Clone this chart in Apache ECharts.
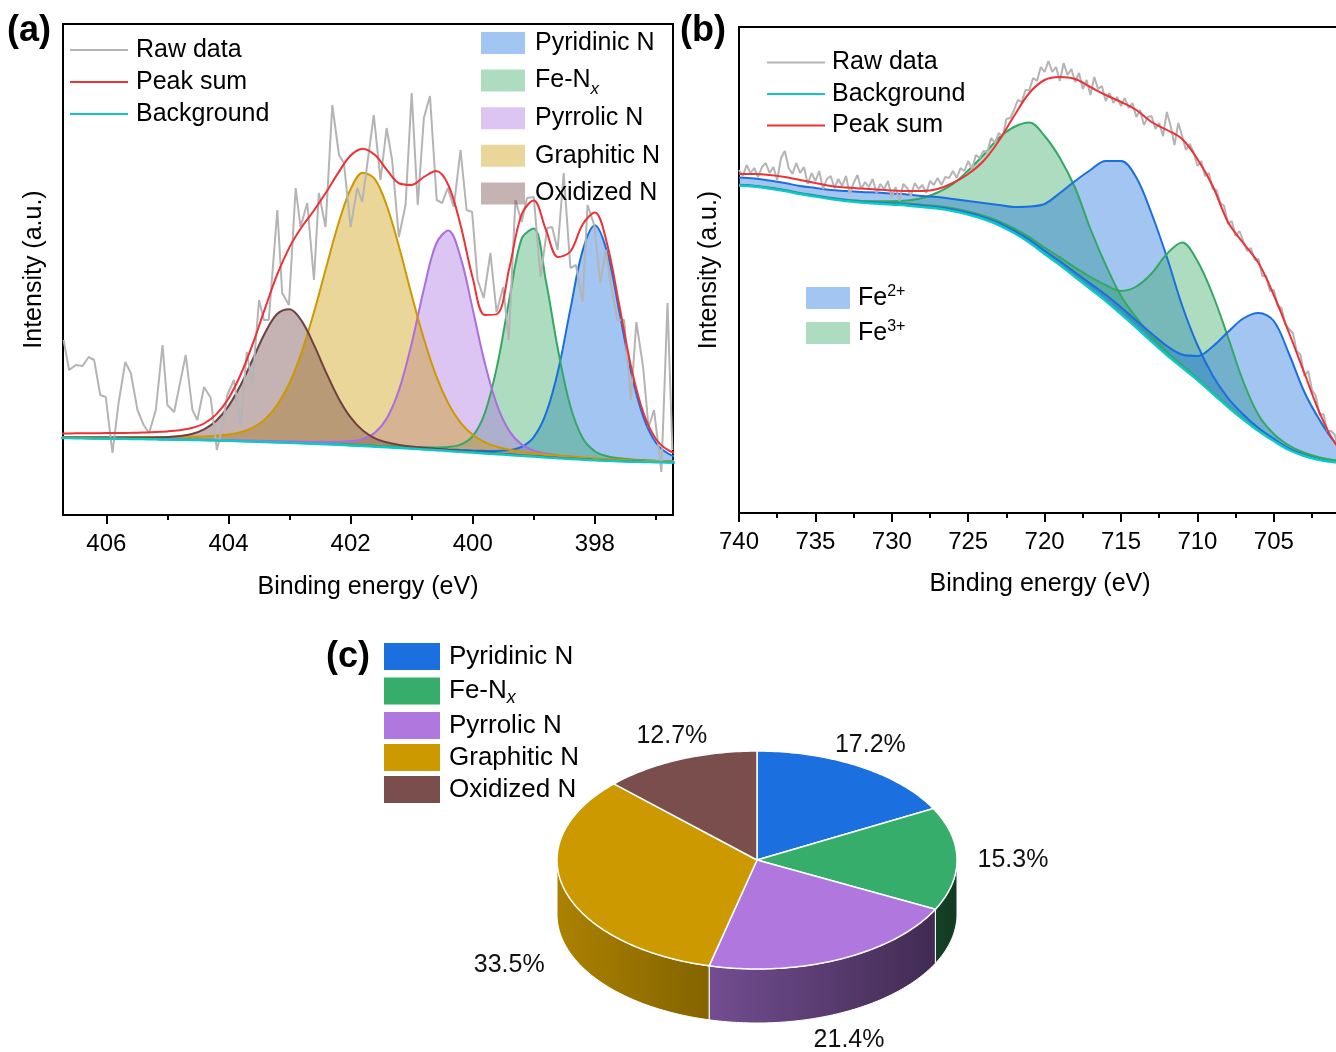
<!DOCTYPE html>
<html>
<head>
<meta charset="utf-8">
<script src="https://cdn.jsdelivr.net/npm/echarts/dist/echarts.min.js"></script>
<style>
html, body { margin: 0; padding: 0; background: #fff; }
#chart { width: 1336px; height: 1052px; }
</style>
</head>
<body>
<div id="chart"></div>
<script>
const FONT = "'Liberation Sans', Arial, Helvetica, sans-serif";

// ---------- (a) N 1s spectrum ----------
const fitEnergyN = [406.8,406.6,406.4,406.2,406.0,405.8,405.6,405.4,405.2,405.0,404.8,404.6,404.4,404.2,404.0,403.8,403.6,403.4,403.2,403.0,402.8,402.6,402.4,402.2,402.0,401.8,401.6,401.4,401.2,401.0,400.8,400.6,400.4,400.2,400.0,399.8,399.6,399.4,399.2,399.0,398.8,398.6,398.4,398.2,398.0,397.8,397.6,397.4,397.2,397.0,396.8,396.6];
const backgroundN = [77.0,76.9,76.8,76.6,76.5,76.3,76.1,75.9,75.7,75.5,75.3,75.0,74.8,74.5,74.2,73.8,73.4,73.0,72.6,72.2,71.7,71.2,70.7,70.2,69.6,69.0,68.3,67.7,67.0,66.3,65.6,64.8,64.0,63.2,62.4,61.6,60.8,60.0,59.2,58.4,57.6,56.8,56.1,55.4,54.8,54.2,53.7,53.3,53.0,52.8,52.6,52.5];
const pyridinicN = [0.1,0.1,0.1,0.1,0.1,0.1,0.2,0.2,0.2,0.2,0.2,0.2,0.2,0.2,0.3,0.3,0.3,0.3,0.4,0.4,0.4,0.4,0.5,0.5,0.6,0.6,0.7,0.8,0.8,0.9,1.1,1.2,1.4,1.7,2.1,2.6,3.3,4.9,8.9,19.5,44.0,88.0,150.0,209.0,235.0,209.0,150.0,88.0,44.0,19.5,8.9,4.9];
const feNxN = [0.1,0.1,0.1,0.1,0.2,0.2,0.2,0.2,0.2,0.2,0.2,0.2,0.3,0.3,0.3,0.3,0.3,0.4,0.4,0.4,0.5,0.5,0.6,0.7,0.8,0.9,1.0,1.2,1.5,1.8,2.2,2.8,4.0,7.1,16.5,40.6,88.4,155.7,217.0,228.0,176.0,107.4,52.4,21.7,9.0,4.6,3.0,2.3,1.9,1.5,1.3,1.1];
const pyrrolicN = [0.2,0.3,0.3,0.3,0.3,0.3,0.4,0.4,0.4,0.5,0.5,0.6,0.6,0.7,0.8,0.9,1.0,1.1,1.3,1.5,1.7,2.0,2.4,3.0,4.3,7.1,14.1,29.8,59.4,105.2,160.2,206.2,220.6,194.7,143.4,89.9,48.8,23.9,11.4,6.0,3.8,2.8,2.3,1.9,1.6,1.4,1.2,1.1,0.9,0.8,0.7,0.7];
const graphiticN = [1.1,1.2,1.3,1.4,1.5,1.6,1.8,2.0,2.2,2.5,3.0,3.2,3.8,4.7,6.2,9.0,14.0,22.8,37.5,59.8,91.5,131.5,176.8,221.1,256.2,273.2,267.4,240.3,199.7,153.7,110.6,74.5,47.6,29.2,17.8,11.1,7.4,5.3,4.2,3.4,3.0,2.6,2.3,2.1,1.9,1.7,1.6,1.4,1.3,1.2,1.1,1.0];
const oxidizedN = [0.6,0.7,0.8,0.9,1.0,1.1,1.3,1.5,1.9,2.5,3.6,6.0,10.8,19.8,34.7,56.2,82.6,109.2,128.6,133.6,122.2,98.9,71.7,46.9,28.0,15.5,8.4,4.8,3.1,2.2,1.7,1.4,1.2,1.1,0.9,0.8,0.7,0.7,0.6,0.5,0.5,0.4,0.4,0.4,0.3,0.3,0.3,0.3,0.2,0.2,0.2,0.2];
const peakSumN = [81.5,81.6,81.7,81.8,81.9,82.0,82.2,82.5,82.9,83.6,84.8,87.0,91.5,100.6,116.5,140.5,171.6,206.8,240.8,267.9,288.0,304.5,322.7,342.4,359.5,366.3,359.9,344.6,331.5,330.1,338.0,344.0,330.0,290.0,237.0,200.0,201.0,247.0,300.5,314.5,284.9,258.0,263.5,290.5,302.6,271.2,209.8,146.4,101.3,76.0,64.8,60.4];
const rawEnergyN = [406.70,406.61,406.50,406.39,406.29,406.20,406.10,406.01,405.90,405.80,405.69,405.60,405.49,405.39,405.30,405.19,405.08,405.00,404.89,404.70,404.59,404.51,404.40,404.29,404.19,404.10,404.02,403.91,403.80,403.70,403.61,403.50,403.42,403.34,403.20,403.12,403.01,402.90,402.82,402.71,402.60,402.52,402.41,402.30,402.19,402.11,402.00,401.89,401.81,401.62,401.51,401.41,401.32,401.21,401.10,401.00,400.90,400.80,400.70,400.59,400.50,400.41,400.31,400.20,400.10,400.01,399.92,399.82,399.71,399.61,399.50,399.41,399.30,399.20,399.11,399.00,398.89,398.78,398.70,398.61,398.51,398.40,398.31,398.20,398.12,398.01,397.91,397.82,397.74,397.63,397.52,397.41,397.32,397.21,397.12,397.03,396.91,396.81,396.73];
const rawIntensityN = [175,145,150,149,158,155,120,118,62,112,153,142,105,90,82,105,170,110,103,160,105,95,128,117,65,88,120,135,90,163,130,215,195,195,305,222,210,327,288,312,235,322,288,410,360,352,288,327,313,400,335,387,355,278,310,422,310,397,419,315,312,327,308,365,305,303,235,217,262,203,228,175,315,293,317,318,238,287,288,265,342,247,250,213,310,290,232,265,232,195,195,115,193,148,88,105,43,212,65];
const majorTicksN = [406, 404, 402, 400, 398];
const minorTicksN = [405, 403, 401, 399, 397];

// ---------- (b) Fe 2p spectrum ----------
const fitEnergyFe = [740,739,738,737,736,735,734,733,732,731,730,729,728,727,726,725,724,723,722,721,720,719,718,717,716,715,714,713,712,711,710,709,708,707,706,705,704,703,702,701,700];
const backgroundFe = [327.5,326.5,324.5,322,319,316.5,314,312,310.5,309.5,308.5,307.5,306,304.5,302,298.5,294,288,280,270.5,259,248,236,224,212,199,185.5,171.5,158,145.5,133,119.5,106,93.5,82,72,63,57,53,50.8,50];
const fe2PeakA = [8,8,8,8,8,8.5,9,10,10.5,11,11,11,11,11.5,12,13.5,16,20,26,36,50,72,96,119,140,153,150,128,98,62,35,18,9,5,3,2.2,1.7,1.3,1,0.8,0.7];
const fe3PeakA = [0.3,0.3,0.4,0.4,0.5,0.5,0.7,1,1.5,2.2,3.2,5,9,16,27,44,64,87,106,120,118,107,89,60,36,18,10,5.5,3.3,2.2,1.6,1.2,1,0.8,0.7,0.6,0.5,0.4,0.4,0.3,0.3];
const fe2PeakB = [0.5,0.5,0.5,0.6,0.6,0.7,0.7,0.8,0.8,0.9,1,1.1,1.2,1.3,1.5,1.7,1.9,2.1,2.4,2.8,3.2,3.8,4.5,5.4,6.2,6.8,7,8,9,13,24,47,75,101,118,120,96,64,40,20,9];
const fe3PeakB = [0.8,0.8,0.9,1,1,1.1,1.2,1.3,1.4,1.5,1.7,1.9,2.1,2.4,2.7,3,3.4,3.9,4.5,5.3,6.3,7.6,9.3,12,16,23,41,68,101,125,119,99,70,38,16,7,4.5,3.2,2.5,2,1.7];
const peakSumFe = [339,339,338,336,333,330,327,325.5,324.5,323.5,322.5,322,322,324,330,339,352,372,397,420,433,436,434,426,418,411,403,391,383,374,354,327,291,270,250,218,180,140,100,70,55];
const rawFe = [
  [740,343],[739.75,337],[739.5,348],[739.25,340],[739,345],[738.75,336],[738.5,346],[738.25,350],[738,340],[737.75,346],
  [737.5,333],[737.25,355],[737,362],[736.75,345],[736.5,339],[736.25,350],[736,340],[735.75,346],[735.5,329],[735.25,340],
  [735,332],[734.75,342],[734.5,324],[734.25,334],[734,337],[733.75,325],[733.5,334],[733.25,327],[733,337],[732.75,319],
  [732.5,330],[732.25,338],[732,324],[731.75,331],[731.5,326],[731.25,334],[731,320],[730.75,329],[730.5,324],[730.25,332],
  [730,315],[729.75,326],[729.5,312],[729.25,329],[729,325],[728.75,317],[728.5,330],[728.25,324],[728,328],[727.75,320],
  [727.5,332],[727.25,328],[727,335],[726.75,328],[726.5,336],[726.25,335],[726,342],[725.75,335],[725.5,345],[725.25,342],
  [725,352],[724.75,344],[724.5,358],[724.25,355],[724,362],[723.75,361],[723.5,375],[723.25,370],[723,380],[722.75,376],
  [722.5,394],[722.25,395],[722,403],[721.75,413],[721.5,411],[721.25,423],[721,423],[720.75,435],[720.5,432],[720.25,446],
  [720,441],[719.75,452],[719.5,441],[719.25,446],[719,432],[718.75,450],[718.5,438],[718.25,444],[718,431],[717.75,440],
  [717.5,424],[717.25,433],[717,418],[716.75,436],[716.5,424],[716.25,427],[716,412],[715.75,420],[715.5,410],[715.25,416],
  [715,407],[714.75,415],[714.5,405],[714.25,410],[714,396],[713.75,403],[713.5,388],[713.25,396],[713,397],[712.75,384],
  [712.5,390],[712.25,377],[712,401],[711.75,387],[711.5,368],[711.25,390],[711,377],[710.75,363],[710.5,369],[710.25,361],
  [710,347],[709.75,352],[709.5,337],[709.25,340],[709,324],[708.75,323],[708.5,310],[708.25,307],[708,289],[707.75,292],
  [707.5,277],[707.25,282],[707,272],[706.75,262],[706.5,265],[706.25,253],[706,254],[705.75,237],[705.5,237],[705.25,222],
  [705,223],[704.75,207],[704.5,205],[704.25,189],[704,184],[703.75,180],[703.5,162],[703.25,158],[703,137],[702.75,142],
  [702.5,123],[702.25,117],[702,98],[701.75,99],[701.5,82],[701.25,82],[701,78],[700.75,62]
];

// ---------- (c) nitrogen species shares (%) ----------
const nitrogenTypes = ['Pyridinic N', 'Fe-Nx', 'Pyrrolic N', 'Graphitic N', 'Oxidized N'];
const nitrogenShares = [17.2, 15.3, 21.4, 33.5, 12.7];

// ---------- styling ----------
const lineColors = { raw: '#b4b4b4', sum: '#ec3237', bg: '#12c6c6' };
const speciesLine = ['#1a6fdf', '#34a862', '#aa6ee1', '#cc9900', '#6e4242'];
const speciesPie = ['#1b6fdf', '#37ad6b', '#b077df', '#cc9900', '#7b4e4e'];
const feLine = { 'Fe2+': '#1a6fdf', 'Fe3+': '#34a862' };
const FILL_ALPHA = 0.4;

function rgba(hex, a) {
  const n = parseInt(hex.slice(1), 16);
  return 'rgba(' + (n >> 16) + ',' + ((n >> 8) & 255) + ',' + (n & 255) + ',' + a + ')';
}
function shade(hex, f) {
  const n = parseInt(hex.slice(1), 16);
  const r = Math.round((n >> 16) * f), g = Math.round(((n >> 8) & 255) * f), b = Math.round((n & 255) * f);
  return 'rgb(' + r + ',' + g + ',' + b + ')';
}
function pairs(xs, ys) { return xs.map((x, i) => [x, ys[i]]); }

// One fitted component: a transparent copy of the background, then the component
// stacked on it. Intensity is stored first so the stack runs along the y axis.
function component(name, xs, base, ys, color, axis, stackId) {
  const common = {
    type: 'line', xAxisIndex: axis, yAxisIndex: axis === 0 ? 0 : 1, stack: stackId,
    encode: { x: 1, y: 0 }, symbol: 'none', smooth: 0.35, z: 2
  };
  return [
    Object.assign({}, common, {
      data: xs.map((x, i) => [base[i], x]), silent: true,
      lineStyle: { width: 0, opacity: 0 }
    }),
    Object.assign({}, common, {
      name: name, data: xs.map((x, i) => [ys[i], x]),
      lineStyle: { color: color, width: 2 }, itemStyle: { color: color },
      areaStyle: { color: color, opacity: FILL_ALPHA }
    })
  ];
}

// legend text with sub/superscripts
function legendLabel(name) {
  if (name === 'Fe-Nx') return '{n|Fe-N}{s|x}';
  if (name === 'Fe2+') return '{n|Fe}{p|2+}';
  if (name === 'Fe3+') return '{n|Fe}{p|3+}';
  return '{n|' + name + '}';
}
// same, but every row carries an (empty) subscript slot so all rows share one height
function legendLabelEven(name) {
  if (name === 'Fe-Nx') return '{n|Fe-N}{s|x}';
  return '{n|' + name + '}{s|\u200b}';
}

const axisBlack = { lineStyle: { color: '#000', width: 2 } };

// ---------- pie geometry ----------
const PIE = { cx: 757, cy: 860, rx: 200, ry: 109, depth: 54 };
const pieLabelNudge = [[-10, 0], [16, 2], [-8, 4], [-17, 14], [8, 0]];

function renderPieSlice(params, api) {
  const i = params.dataIndex;
  const total = nitrogenShares.reduce((a, b) => a + b, 0);
  let before = 0;
  for (let k = 0; k < i; k++) before += nitrogenShares[k];
  const v = api.value(0);
  const a0 = before / total * 2 * Math.PI;
  const a1 = (before + v) / total * 2 * Math.PI;
  const pt = (t, dy) => [PIE.cx + PIE.rx * Math.sin(t), PIE.cy - PIE.ry * Math.cos(t) + dy];
  const arc = (s, e, dy) => {
    const n = Math.max(2, Math.ceil((e - s) / (Math.PI / 180)));
    const out = [];
    for (let j = 0; j <= n; j++) out.push(pt(s + (e - s) * j / n, dy));
    return out;
  };
  const base = speciesPie[i];
  const children = [];
  const ws = Math.max(a0, Math.PI / 2), we = Math.min(a1, 1.5 * Math.PI);
  if (we > ws) {
    const wall = arc(ws, we, 0).concat(arc(ws, we, PIE.depth).reverse());
    children.push({
      type: 'polygon', shape: { points: wall },
      style: {
        fill: new echarts.graphic.LinearGradient(PIE.cx - PIE.rx, 0, PIE.cx + PIE.rx, 0,
          [{ offset: 0, color: shade(base, 0.84) }, { offset: 1, color: shade(base, 0.34) }], true),
        stroke: '#ffffff', lineWidth: 1
      }
    });
  }
  children.push({
    type: 'polygon', shape: { points: [[PIE.cx, PIE.cy]].concat(arc(a0, a1, 0)) },
    style: { fill: base, stroke: '#ffffff', lineWidth: 1.5 }
  });
  const mid = (a0 + a1) / 2, s = Math.sin(mid), c = Math.cos(mid);
  children.push({
    type: 'text',
    style: {
      text: v.toFixed(1) + '%',
      x: PIE.cx + (PIE.rx + 40) * s + pieLabelNudge[i][0],
      y: PIE.cy - (PIE.ry + 25) * c + (c < 0 ? PIE.depth : 0) + pieLabelNudge[i][1],
      fill: '#111', fontSize: 25, fontFamily: FONT, align: 'center', verticalAlign: 'middle'
    }
  });
  return { type: 'group', children: children };
}

// ---------- series ----------
const series = [];
// (a)
series.push({
  type: 'line', name: 'Raw data', xAxisIndex: 0, yAxisIndex: 0,
  data: pairs(rawEnergyN, rawIntensityN), symbol: 'none',
  lineStyle: { color: lineColors.raw, width: 2 }, itemStyle: { color: lineColors.raw }, z: 3
});
const nSeriesData = [pyridinicN, feNxN, pyrrolicN, graphiticN, oxidizedN];
nitrogenTypes.forEach((name, i) => {
  component(name, fitEnergyN, backgroundN, nSeriesData[i], speciesLine[i], 0, 'n' + i).forEach(s => series.push(s));
});
series.push({
  type: 'line', name: 'Background', xAxisIndex: 0, yAxisIndex: 0,
  data: pairs(fitEnergyN, backgroundN), symbol: 'none', smooth: 0.35,
  lineStyle: { color: lineColors.bg, width: 2.5 }, itemStyle: { color: lineColors.bg }, z: 4
});
series.push({
  type: 'line', name: 'Peak sum', xAxisIndex: 0, yAxisIndex: 0,
  data: pairs(fitEnergyN, peakSumN), symbol: 'none', smooth: 0.35,
  lineStyle: { color: lineColors.sum, width: 2 }, itemStyle: { color: lineColors.sum }, z: 5
});
// (b)
series.push({
  type: 'line', name: 'Raw data', xAxisIndex: 2, yAxisIndex: 1,
  data: rawFe, symbol: 'none',
  lineStyle: { color: lineColors.raw, width: 2 }, itemStyle: { color: lineColors.raw }, z: 3
});
[['Fe3+', fe3PeakA], ['Fe2+', fe2PeakA], ['Fe3+', fe3PeakB], ['Fe2+', fe2PeakB]].forEach((p, i) => {
  component(p[0], fitEnergyFe, backgroundFe, p[1], feLine[p[0]], 2, 'fe' + i).forEach(s => series.push(s));
});
series.push({
  type: 'line', name: 'Background', xAxisIndex: 2, yAxisIndex: 1,
  data: pairs(fitEnergyFe, backgroundFe), symbol: 'none', smooth: 0.35,
  lineStyle: { color: lineColors.bg, width: 2.5 }, itemStyle: { color: lineColors.bg }, z: 4
});
series.push({
  type: 'line', name: 'Peak sum', xAxisIndex: 2, yAxisIndex: 1,
  data: pairs(fitEnergyFe, peakSumFe), symbol: 'none', smooth: 0.35,
  lineStyle: { color: lineColors.sum, width: 2 }, itemStyle: { color: lineColors.sum }, z: 5
});
// (c)
series.push({
  type: 'custom', coordinateSystem: 'none', silent: true,
  data: nitrogenShares, renderItem: renderPieSlice, z: 2
});

const textBase = { fontFamily: FONT, color: '#000' };
const titleStyle = { fontSize: 36, fontWeight: 'bold', fontFamily: FONT, color: '#000' };

const option = {
  animation: false,
  backgroundColor: '#fff',
  textStyle: { fontFamily: FONT },
  title: [
    { text: '(a)', left: 7, top: 13, padding: 0, textStyle: titleStyle },
    { text: '(b)', left: 680, top: 13, padding: 0, textStyle: titleStyle },
    { text: '(c)', left: 326, top: 639, padding: 0, textStyle: titleStyle }
  ],
  grid: [
    { left: 63, top: 24, width: 610, height: 491, show: true, borderColor: '#000', borderWidth: 2,
      backgroundColor: 'transparent', outerBoundsMode: 'none', containLabel: false },
    { left: 739, top: 27, width: 611.2, height: 486, show: true, borderColor: '#000', borderWidth: 2,
      backgroundColor: 'transparent', outerBoundsMode: 'none', containLabel: false }
  ],
  xAxis: [
    {
      gridIndex: 0, type: 'value', inverse: true, min: 396.72, max: 406.71,
      axisLine: axisBlack, splitLine: { show: false },
      axisTick: { customValues: majorTicksN, length: 9, lineStyle: { color: '#000', width: 2 } },
      axisLabel: { customValues: majorTicksN, fontSize: 24, margin: 17, ...textBase },
      name: 'Binding energy (eV)', nameLocation: 'middle', nameGap: 60,
      nameTextStyle: { fontSize: 25, ...textBase }
    },
    {
      gridIndex: 0, type: 'value', inverse: true, min: 396.72, max: 406.71, position: 'bottom',
      axisLine: { show: false }, splitLine: { show: false }, axisLabel: { show: false },
      axisTick: { customValues: minorTicksN, length: 5, lineStyle: { color: '#000', width: 2 } }
    },
    {
      gridIndex: 1, type: 'value', inverse: true, min: 700, max: 740, interval: 5,
      axisLine: axisBlack, splitLine: { show: false },
      axisTick: { length: 9, lineStyle: { color: '#000', width: 2 } },
      minorTick: { show: true, splitNumber: 2, length: 5, lineStyle: { color: '#000', width: 2 } },
      axisLabel: { fontSize: 24, margin: 17, showMinLabel: false, ...textBase },
      name: 'Binding energy (eV)', nameLocation: 'middle', nameGap: 59,
      nameTextStyle: { fontSize: 25, ...textBase, padding: [0, 9, 0, 0] }
    }
  ],
  yAxis: [
    {
      gridIndex: 0, type: 'value', min: 0, max: 491,
      axisLine: { show: true, ...axisBlack }, axisTick: { show: false }, axisLabel: { show: false }, splitLine: { show: false },
      name: 'Intensity (a.u.)', nameLocation: 'middle', nameGap: 16, nameTextStyle: { fontSize: 25, ...textBase }
    },
    {
      gridIndex: 1, type: 'value', min: 0, max: 486,
      axisLine: { show: true, ...axisBlack }, axisTick: { show: false }, axisLabel: { show: false }, splitLine: { show: false },
      name: 'Intensity (a.u.)', nameLocation: 'middle', nameGap: 17, nameTextStyle: { fontSize: 25, ...textBase }
    }
  ],
  legend: [
    {
      data: ['Raw data', 'Peak sum', 'Background'], orient: 'vertical', left: 70, top: 37.5, padding: 0,
      icon: 'rect', itemWidth: 58, itemHeight: 2, itemGap: 7, selectedMode: false,
      itemStyle: { borderWidth: 0 },
      formatter: legendLabel,
      textStyle: { padding: [0, 0, 0, 3], rich: { n: { fontSize: 25, ...textBase } } }
    },
    {
      data: nitrogenTypes.map((n, i) => ({ name: n, itemStyle: { color: rgba(speciesLine[i], FILL_ALPHA), borderWidth: 0 } })),
      orient: 'vertical', left: 481, top: 30.5, padding: 0, icon: 'rect',
      itemWidth: 44, itemHeight: 22, itemGap: 7.6, selectedMode: false,
      formatter: legendLabelEven,
      textStyle: {
        padding: [0, 0, 0, 5],
        rich: {
          n: { fontSize: 25, ...textBase },
          s: { fontSize: 17, fontStyle: 'italic', padding: [18, 0, 0, 0], ...textBase }
        }
      }
    },
    {
      data: ['Raw data', 'Background', 'Peak sum'], orient: 'vertical', left: 767, top: 50, padding: 0,
      icon: 'rect', itemWidth: 58, itemHeight: 2, itemGap: 6.5, selectedMode: false,
      itemStyle: { borderWidth: 0 },
      formatter: legendLabel,
      textStyle: { padding: [0, 0, 0, 2], rich: { n: { fontSize: 25, ...textBase } } }
    },
    {
      data: [
        { name: 'Fe2+', itemStyle: { color: rgba(feLine['Fe2+'], FILL_ALPHA), borderWidth: 0 } },
        { name: 'Fe3+', itemStyle: { color: rgba(feLine['Fe3+'], FILL_ALPHA), borderWidth: 0 } }
      ],
      orient: 'vertical', left: 806, top: 284, padding: 0, icon: 'rect',
      itemWidth: 44, itemHeight: 22, itemGap: 7, selectedMode: false,
      formatter: legendLabel,
      textStyle: {
        padding: [0, 0, 0, 3],
        rich: {
          n: { fontSize: 25, lineHeight: 28, ...textBase },
          p: { fontSize: 16, lineHeight: 16, padding: [0, 0, 12, 0], ...textBase }
        }
      }
    },
    {
      data: nitrogenTypes.map((n, i) => ({ name: n, itemStyle: { color: speciesPie[i], borderWidth: 0 } })),
      orient: 'vertical', left: 384, top: 643, padding: 0, icon: 'rect',
      itemWidth: 56, itemHeight: 27, itemGap: 5, selectedMode: false,
      formatter: legendLabel,
      textStyle: {
        padding: [0, 0, 0, 4],
        rich: {
          n: { fontSize: 26, lineHeight: 27, ...textBase },
          s: { fontSize: 18, lineHeight: 18, fontStyle: 'italic', padding: [14, 0, 0, 0], ...textBase }
        }
      }
    }
  ],
  series: series
};

const chart = echarts.init(document.getElementById('chart'), null, { renderer: 'canvas', width: 1336, height: 1052 });
chart.setOption(option);
</script>
</body>
</html>
